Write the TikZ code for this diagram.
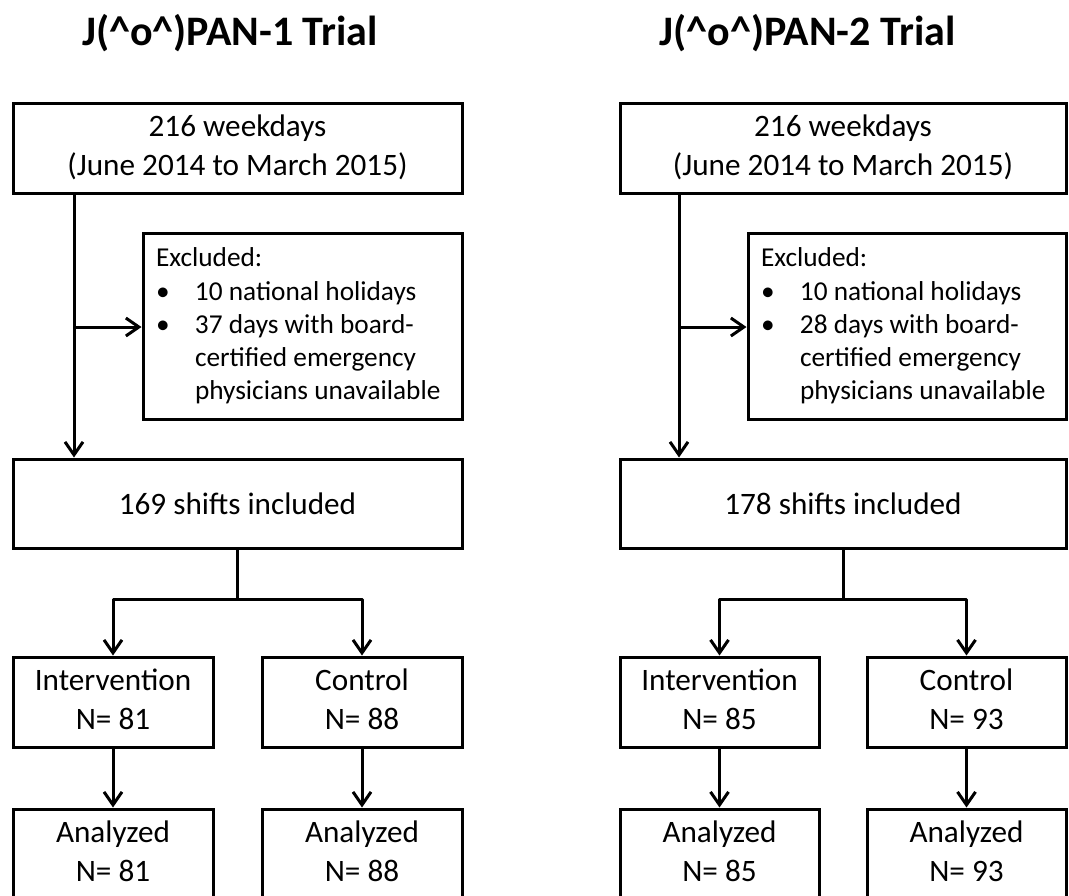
\documentclass[tikz,border=0pt]{standalone}
\usepackage{fontspec}
\setmainfont{Carlito}
\usetikzlibrary{arrows.meta}
\tikzset{
  box/.style={draw, line width=1.5pt, inner sep=0pt, align=center,
    font=\fontsize{15.6}{19.3}\selectfont},
  exbox/.style={draw, line width=1.5pt, inner xsep=6.5pt, inner ysep=0pt, align=flush left,
    text width=146.5pt, minimum height=93pt, font=\fontsize{13.65}{16.6}\selectfont},
  ttl/.style={font=\fontsize{21}{25}\selectfont\bfseries, anchor=base, inner sep=0pt},
  conn/.style={line width=1.5pt, line join=round},
  arr/.style={conn, -{Straight Barb[length=6.5pt,width=9pt,line width=1.5pt]}}
}
\newcommand{\bul}{\makebox[19.5pt][l]{\textbullet}}
\newcommand{\ind}{\hspace*{19.5pt}}
\newcommand{\twol}[2]{\strut #1\\#2\strut}
\begin{document}
\begin{tikzpicture}[x=0.5pt,y=-0.5pt]
\clip (0,0) rectangle (1069,895);
\fill[white] (0,0) rectangle (1069,895);
% ---------- left panel ----------
\node[ttl] (H1) at (230,45) {J(\^{}o\^{})PAN-1 Trial};
\node[box, minimum width=224.5pt, minimum height=45pt] (T1) at (237.5,148) {\twol{216 weekdays}{(June 2014 to March 2015)}};
\node[exbox] (E1) at (302.5,326) {Excluded:\\\bul 10 national holidays\\\bul 37 days with board-\\\ind certified emergency\\\ind physicians unavailable};
\node[box, minimum width=224.5pt, minimum height=44.5pt] (S1) at (237.5,503.5) {169 shifts included};
\node[box, minimum width=100pt, minimum height=45pt] (I1) at (113,702) {\twol{Intervention}{N= 81}};
\node[box, minimum width=100pt, minimum height=45pt] (C1) at (362,702) {\twol{Control}{N= 88}};
\node[box, minimum width=100pt, minimum height=45pt] (A1) at (113,854) {\twol{Analyzed}{N= 81}};
\node[box, minimum width=100pt, minimum height=45pt] (B1) at (362,854) {\twol{Analyzed}{N= 88}};
\coordinate (v1) at (74,327);
\coordinate (br1) at (238,599);
\draw[arr] (v1 |- T1.south) -- (v1 |- S1.north);
\draw[arr] (v1) -- (E1.west |- v1);
\draw[conn] (S1.south) -- (S1.south |- br1);
\draw[arr] (S1.south |- br1) -| (I1.north);
\draw[arr] (S1.south |- br1) -| (C1.north);
\draw[arr] (I1.south) -- (A1.north);
\draw[arr] (C1.south) -- (B1.north);
% ---------- right panel ----------
\node[ttl] (H2) at (807.5,45) {J(\^{}o\^{})PAN-2 Trial};
\node[box, minimum width=223pt, minimum height=45pt] (T2) at (843,148) {\twol{216 weekdays}{(June 2014 to March 2015)}};
\node[exbox, text width=146pt] (E2) at (907,326) {Excluded:\\\bul 10 national holidays\\\bul 28 days with board-\\\ind certified emergency\\\ind physicians unavailable};
\node[box, minimum width=223pt, minimum height=44.5pt] (S2) at (843,503.5) {178 shifts included};
\node[box, minimum width=99.5pt, minimum height=45pt] (I2) at (719.5,702) {\twol{Intervention}{N= 85}};
\node[box, minimum width=99.5pt, minimum height=45pt] (C2) at (966.5,702) {\twol{Control}{N= 93}};
\node[box, minimum width=99.5pt, minimum height=45pt] (A2) at (719.5,854) {\twol{Analyzed}{N= 85}};
\node[box, minimum width=99.5pt, minimum height=45pt] (B2) at (966.5,854) {\twol{Analyzed}{N= 93}};
\coordinate (v2) at (679,327);
\coordinate (br2) at (843,599);
\draw[arr] (v2 |- T2.south) -- (v2 |- S2.north);
\draw[arr] (v2) -- (E2.west |- v2);
\draw[conn] (S2.south) -- (S2.south |- br2);
\draw[arr] (S2.south |- br2) -| (I2.north);
\draw[arr] (S2.south |- br2) -| (C2.north);
\draw[arr] (I2.south) -- (A2.north);
\draw[arr] (C2.south) -- (B2.north);
\end{tikzpicture}
\end{document}
